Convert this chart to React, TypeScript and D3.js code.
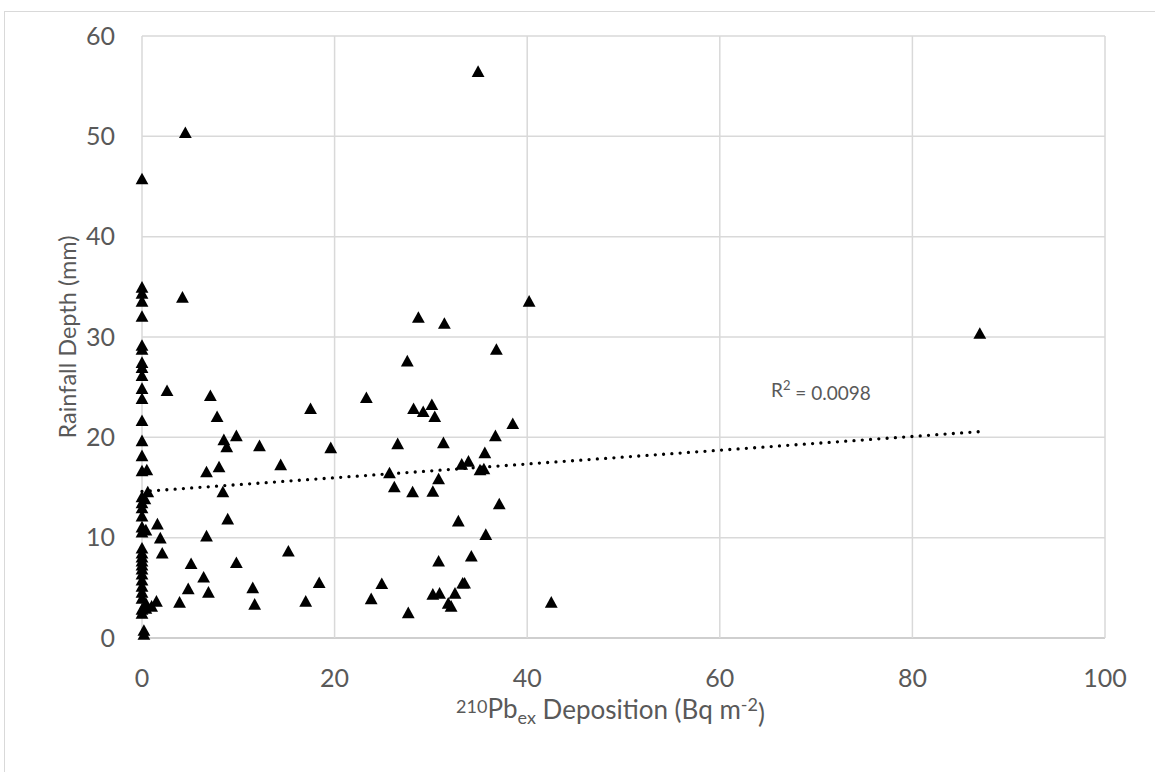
import React from "react";
import * as d3 from "d3";

// 210Pb_ex deposition (Bq m-2)
const deposition: number[] = [
  0, 0, 0, 0, 0, 0, 0, 0, 0, 0, 0, 0, 0, 0, 0, 0, 0, 0.5, 0, 0.6, 0.3, 0, 0, 0, 0, 0.4, 0, 0, 0, 0, 0, 0, 0, 0, 0, 0, 0.4, 0.4, 0, 0, 0, 0.2, 0.2,
  4.5, 34.9, 4.2, 87.0, 40.2,
  2.6, 7.1, 7.8, 8.5, 9.8, 8.8, 12.2, 17.5, 19.6, 6.7, 8.0, 14.4, 8.4, 8.9, 1.6, 1.9, 2.1, 6.7, 15.2, 5.1, 9.8, 6.4, 4.8, 6.9, 11.5, 18.4, 3.9, 1.5, 1.0, 11.7, 17.0,
  28.7, 31.4, 36.8, 27.55, 23.3, 28.2, 29.2, 30.1, 30.4, 38.5, 36.7, 26.55, 31.3, 35.6, 33.2, 33.9, 35.1, 35.5, 25.7, 30.8, 26.2, 28.1, 30.2,
  37.1, 32.85, 35.7, 30.8, 34.2, 24.9, 23.8, 27.65, 30.2, 30.9, 32.5, 33.3, 33.5, 31.8, 32.1, 42.5,
];

// Rainfall depth (mm)
const rainfall: number[] = [
  45.8, 35.0, 34.4, 33.6, 32.1, 29.2, 28.8, 27.5, 27.0, 26.2, 24.9, 23.9, 21.7, 19.7, 18.2, 16.7, 14.1, 16.8, 13.5, 14.6, 13.9, 13.0, 12.2, 11.1, 10.6, 10.8, 9.0, 8.5, 8.1, 7.7, 7.3, 6.9, 6.4, 5.8, 5.2, 4.0, 3.5, 3.0, 2.9, 2.5, 4.6, 0.8, 0.4,
  50.4, 56.5, 34.0, 30.4, 33.6,
  24.7, 24.2, 22.1, 19.8, 20.2, 19.1, 19.2, 22.9, 19.0, 16.6, 17.1, 17.3, 14.6, 11.9, 11.4, 10.0, 8.5, 10.2, 8.7, 7.45, 7.55, 6.1, 4.95, 4.6, 5.05, 5.55, 3.6, 3.7, 3.2, 3.4, 3.7,
  32.0, 31.4, 28.8, 27.65, 24.0, 22.9, 22.6, 23.3, 22.1, 21.4, 20.2, 19.4, 19.5, 18.5, 17.35, 17.65, 16.8, 16.9, 16.5, 15.9, 15.1, 14.6, 14.65,
  13.4, 11.7, 10.35, 7.7, 8.2, 5.45, 3.95, 2.55, 4.4, 4.5, 4.5, 5.5, 5.5, 3.5, 3.2, 3.6,
];

const xTicks: number[] = [0, 20, 40, 60, 80, 100];
const yTicks: number[] = [0, 10, 20, 30, 40, 50, 60];

// Linear trendline
const trendRange: number[] = [0, 87.0];
const trendIntercept = 14.6;
const trendSlope = 0.0686;
const rSquaredLabel = "0.0098";

const W = 1155;
const H = 772;
const FONT = "Lato, 'Open Sans', sans-serif";
const TEXT = "#595959";

export default function App() {
  const x = d3.scaleLinear().domain([0, 100]).range([142, 1105]);
  const y = d3.scaleLinear().domain([0, 60]).range([638, 36]);

  const pts = deposition.map((d, i) => ({ x: d, y: rainfall[i] }));
  const tri = "M0,-5.8L6.4,5.8L-6.4,5.8Z";

  const line = d3
    .line<number>()
    .x((d) => x(d))
    .y((d) => y(trendIntercept + trendSlope * d));

  return (
    <svg
      width={W}
      height={H}
      style={{ position: "absolute", left: 0, top: 0, background: "#fff" }}
    >
      <rect x={4.5} y={11.5} width={1300} height={900} fill="#fff" stroke="#d9d9d9" strokeWidth={1} />
      {/* gridlines */}
      {yTicks.map((t) => (
        <line
          key={"gy" + t}
          x1={x(0)}
          x2={x(100)}
          y1={y(t)}
          y2={y(t)}
          stroke={t === 0 ? "#bfbfbf" : "#d9d9d9"}
          strokeWidth={1.5}
        />
      ))}
      {xTicks.map((t) => (
        <line
          key={"gx" + t}
          x1={x(t)}
          x2={x(t)}
          y1={y(0)}
          y2={y(60)}
          stroke="#d9d9d9"
          strokeWidth={1.5}
        />
      ))}
      {/* tick labels */}
      {yTicks.map((t) => (
        <text
          key={"ty" + t}
          x={115}
          y={y(t)}
          dy="0.35em"
          textAnchor="end"
          fontFamily={FONT}
          fontSize={25}
          fill={TEXT}
        >
          {t}
        </text>
      ))}
      {xTicks.map((t) => (
        <text
          key={"tx" + t}
          x={x(t)}
          y={678}
          dy="0.35em"
          textAnchor="middle"
          fontFamily={FONT}
          fontSize={25}
          fill={TEXT}
        >
          {t}
        </text>
      ))}
      {/* axis titles */}
      <text
        transform={`translate(68,${(y(0) + y(60)) / 2}) rotate(-90)`}
        textAnchor="middle"
        dy="0.35em"
        fontFamily={FONT}
        fontSize={23.5}
        fill={TEXT}
      >
        Rainfall Depth (mm)
      </text>
      <text
        x={(x(0) + x(100)) / 2 - 13}
        y={719}
        dy="0.35em"
        textAnchor="middle"
        fontFamily={FONT}
        fontSize={26}
        fill={TEXT}
      >
        <tspan fontSize={18} dy="-0.35em">210</tspan>
        <tspan dy="0.2em">Pb</tspan>
        <tspan fontSize={18} dy="0.35em">ex</tspan>
        <tspan dy="-0.2em"> Deposition (Bq m</tspan>
        <tspan fontSize={18} dy="-0.45em">-2</tspan>
        <tspan dy="0.45em">)</tspan>
      </text>
      {/* points */}
      {pts.map((p, i) => (
        <path key={i} d={tri} transform={`translate(${x(p.x)},${y(p.y)})`} fill="#000" />
      ))}
      {/* trendline */}
      <path
        d={line(trendRange) || ""}
        fill="none"
        stroke="#000"
        strokeWidth={3.3}
        strokeLinecap="round"
        strokeDasharray="0 8.3"
      />
      <text x={771} y={390} dy="0.35em" fontFamily={FONT} fontSize={19} fill={TEXT}>
        R<tspan fontSize={13} dy="-0.5em">2</tspan>
        <tspan dy="0.5em"> = {rSquaredLabel}</tspan>
      </text>
    </svg>
  );
}
